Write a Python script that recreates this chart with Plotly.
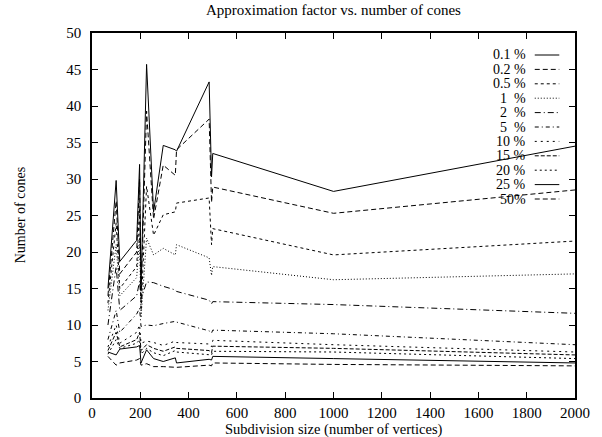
import plotly.graph_objects as go

# Subdivision sizes (number of vertices)
x_vals = [66, 100, 115, 185, 197, 203, 226, 255, 295, 345, 350, 485, 495, 500, 1000, 2000]

labels = ["0.1 %", "0.2 %", "0.5 %", "1  %", "2  %", "5  %", "10 %", "15 %", "20 %", "25 %", "50%"]

s_01 = [15, 29.8, 18.7, 21.6, 32.0, 15.0, 45.7, 25.5, 34.6, 34.0, 33.8, 43.3, 30.3, 33.5, 28.3, 34.5]
s_02 = [14, 27.0, 17.0, 20.0, 30.0, 14.0, 39.3, 24.5, 31.9, 30.5, 34.0, 38.2, 26.8, 28.9, 25.3, 28.5]
s_05 = [13, 24.0, 15.0, 18.0, 26.0, 12.0, 29.0, 22.3, 25.1, 25.5, 26.7, 27.4, 21.0, 23.2, 19.6, 21.5]
s_1 = [12, 21.0, 14.0, 16.5, 22.0, 11.0, 21.9, 19.6, 20.5, 19.6, 21.0, 19.2, 16.8, 18.0, 16.2, 17.0]
s_2 = [10, 18.0, 12.0, 14.0, 16.0, 13.5, 15.9, 15.8, 15.3, 14.8, 14.6, 13.4, 12.9, 13.2, 12.8, 11.6]
s_5 = [8, 12.0, 9.0, 11.5, 12.3, 9.8, 10.0, 9.9, 10.2, 10.5, 10.4, 9.2, 8.9, 9.3, 8.8, 7.3]
s_10 = [7, 10.0, 7.5, 9.0, 10.0, 7.5, 7.8, 7.6, 7.2, 7.8, 7.6, 7.4, 7.0, 7.9, 7.3, 6.3]
s_15 = [6.5, 9.0, 7.0, 8.0, 9.0, 6.5, 7.3, 6.8, 6.4, 7.0, 6.8, 6.5, 6.2, 7.1, 6.8, 5.9]
s_20 = [6.0, 8.0, 6.8, 7.5, 8.0, 6.0, 6.8, 6.2, 5.8, 6.5, 6.3, 6.0, 5.9, 6.4, 6.3, 5.4]
s_25 = [6.3, 5.9, 6.7, 7.0, 7.2, 4.8, 6.6, 5.4, 5.0, 5.5, 4.8, 5.3, 5.2, 5.7, 5.4, 4.8]
s_50 = [5.7, 4.5, 4.8, 5.2, 5.4, 4.5, 4.7, 4.3, 4.3, 4.3, 4.2, 4.5, 4.4, 4.8, 4.6, 4.4]

series = [s_01, s_02, s_05, s_1, s_2, s_5, s_10, s_15, s_20, s_25, s_50]
dashes = ["solid", "5px,3px", "3px,3px", "1px,2px", "6px,3px,1px,3px",
          "4px,3px,1px,3px", "2px,4px", "4px,2px", "2px,3px", "solid", "5px,3px"]

FONT = "Liberation Serif, Times New Roman, serif"

fig = go.Figure()
for lab, ys, d in zip(labels, series, dashes):
    fig.add_trace(go.Scatter(x=x_vals, y=ys, mode="lines", name=lab,
                             line=dict(color="black", width=1, dash=d),
                             showlegend=False))

# manual gnuplot-style key (text right-aligned, sample to the right)
L, R, T, B = 92, 584, 33, 398
W, H = R - L, B - T
def px(xp):
    return (xp - L) / W
def py(yp):
    return (B - yp) / H

annotations = []
shapes = []
for i, (lab, d) in enumerate(zip(labels, dashes)):
    yy = 55 + i * 14.4
    annotations.append(dict(x=px(536), y=py(yy), xref="paper", yref="paper",
                            text=lab, showarrow=False, xanchor="right", yanchor="middle",
                            font=dict(family=FONT, size=14, color="black")))
    shapes.append(dict(type="line", xref="paper", yref="paper",
                       x0=px(543), x1=px(568), y0=py(yy), y1=py(yy),
                       line=dict(color="black", width=1, dash=d)))

annotations.append(dict(x=0.5, y=py(10), xref="paper", yref="paper",
                        text="Approximation factor vs. number of cones", showarrow=False,
                        xanchor="center", yanchor="middle",
                        font=dict(family=FONT, size=15, color="black")))
annotations.append(dict(x=0.5, y=py(429), xref="paper", yref="paper",
                        text="Subdivision size (number of vertices)", showarrow=False,
                        xanchor="center", yanchor="middle",
                        font=dict(family=FONT, size=14.5, color="black")))
annotations.append(dict(x=px(20), y=py(215), xref="paper", yref="paper",
                        text="Number of cones", showarrow=False, textangle=-90,
                        xanchor="center", yanchor="middle",
                        font=dict(family=FONT, size=14, color="black")))

fig.update_layout(
    width=602, height=437,
    margin=dict(l=L, r=602 - R, t=T, b=437 - B),
    paper_bgcolor="white", plot_bgcolor="white",
    font=dict(family=FONT, size=15, color="black"),
    annotations=annotations, shapes=shapes,
    showlegend=False,
)
fig.update_xaxes(range=[0, 2000], dtick=200, tick0=0, showgrid=False, zeroline=False,
                 showline=True, linecolor="black", linewidth=1.5, mirror="ticks",
                 ticks="inside", ticklen=6, tickcolor="black", tickwidth=1,
                 ticklabelstandoff=0)
fig.update_yaxes(range=[0, 50], dtick=5, tick0=0, showgrid=False, zeroline=False,
                 showline=True, linecolor="black", linewidth=1.5, mirror="ticks",
                 ticks="inside", ticklen=6, tickcolor="black", tickwidth=1,
                 ticklabelstandoff=6)

fig.write_html("out.html")
